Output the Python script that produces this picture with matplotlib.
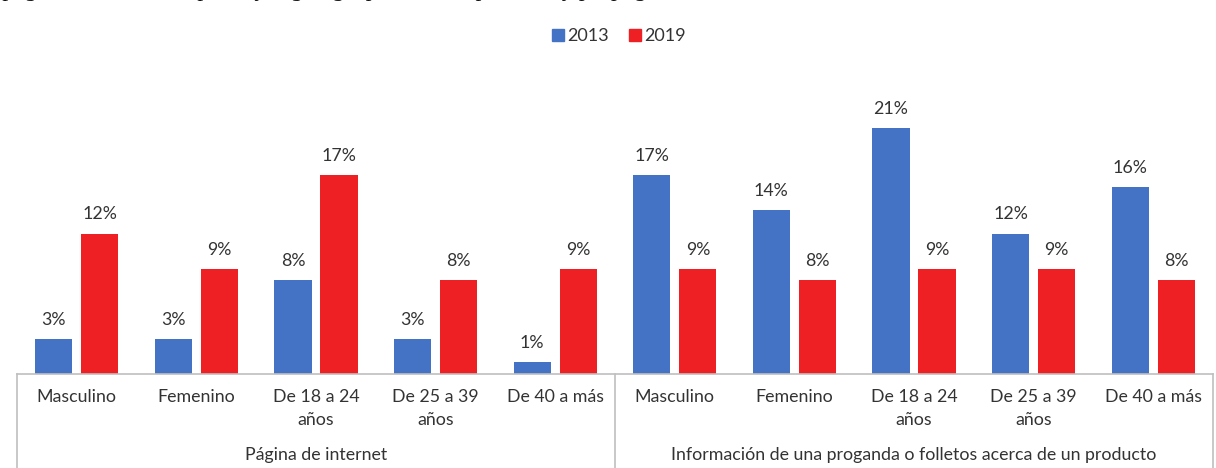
import numpy as np
import matplotlib
matplotlib.use("Agg")
import matplotlib.pyplot as plt
from matplotlib.lines import Line2D
from matplotlib.patches import Rectangle

plt.rcParams['font.family'] = ['Lato', 'DejaVu Sans']

cats = ["Masculino", "Femenino", "De 18 a 24\naños", "De 25 a 39\naños", "De 40 a más"]
groups = ["Página de internet",
          "Información de una proganda o folletos acerca de un producto"]
years = ["2013", "2019"]

internet_2013 = [3, 3, 8, 3, 1]
internet_2019 = [12, 9, 17, 8, 9]
folletos_2013 = [17, 14, 21, 12, 16]
folletos_2019 = [9, 8, 9, 9, 8]

blue = "#4472C4"
red = "#EE2024"
txt = "#333333"
grid = "#BFBFBF"

W, H = 1216, 468
fig = plt.figure(figsize=(W / 100, H / 100), dpi=100)
ax = fig.add_axes([17 / W, 94 / H, (1213 - 17) / W, 281 / H])

v13 = internet_2013 + folletos_2013
v19 = internet_2019 + folletos_2019
x = np.arange(len(v13))
bw = 0.31
gap = 0.075
b1 = ax.bar(x - (bw + gap) / 2, v13, bw, color=blue, label=years[0])
b2 = ax.bar(x + (bw + gap) / 2, v19, bw, color=red, label=years[1])

for bars, vals in ((b1, v13), (b2, v19)):
    for r, v in zip(bars, vals):
        ax.annotate(f"{v}%", (r.get_x() + r.get_width() / 2, v),
                    xytext=(0, 8), textcoords="offset points",
                    ha="center", va="bottom", fontsize=12.8, color=txt)

ax.set_xlim(-0.5, len(v13) - 0.5)
ax.set_ylim(0, 24)
for s in ("top", "right", "left"):
    ax.spines[s].set_visible(False)
ax.spines["bottom"].set_color(grid)
ax.spines["bottom"].set_linewidth(1.2)
ax.set_yticks([])
ax.set_xticks(x)
ax.set_xticklabels(cats * 2, fontsize=12.8, color=txt, linespacing=1.5)
ax.tick_params(axis="x", length=0, pad=11)

# group separators below the axis
trans = ax.get_xaxis_transform()
for xv in (-0.5, 4.5, 9.5):
    ax.add_line(Line2D([xv, xv], [0, -0.36], transform=trans, color=grid,
                       lw=1.2, clip_on=False))
for i, g in enumerate(groups):
    ax.text(2 + 5 * i, -0.29, g, transform=trans, ha="center", va="center",
            fontsize=12.8, color=txt)

# legend
fig.legend(handles=[Rectangle((0, 0), 1, 1, color=blue), Rectangle((0, 0), 1, 1, color=red)],
           labels=years, loc="center", bbox_to_anchor=(619 / W, 1 - 36 / H), ncol=2,
           frameon=False, fontsize=13, handlelength=0.65, handleheight=0.65,
           handletextpad=0.2, columnspacing=1.1, labelcolor=txt)

# caption line above, cut by the page edge
fig.text(3 / W, 1 + 4 / H, "página web de la empresa y según grupo de edad por sexo y propaganda",
         fontsize=17, style="italic", family="Liberation Serif",
         color="#111111", ha="left", va="baseline")

fig.savefig("out.png", dpi=100)
